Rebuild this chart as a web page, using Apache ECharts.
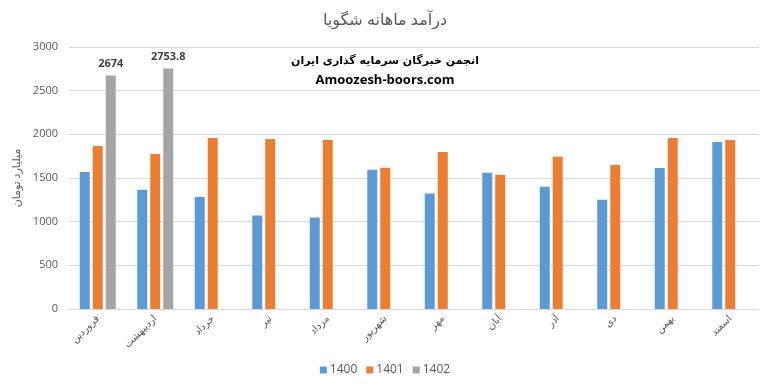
<!DOCTYPE html>
<html><head><meta charset="utf-8">
<script src="https://cdn.jsdelivr.net/npm/echarts@6/dist/echarts.min.js"></script>
<style>html,body{margin:0;padding:0;background:#fff}#c{width:770px;height:391px}</style>
</head><body><div id="c"></div>
<script>
var categories = ['فروردین','اردیبهشت','خرداد','تیر','مرداد','شهریور','مهر','آبان','آذر','دی','بهمن','اسفند'];
var s1400 = [1570, 1365, 1283, 1070, 1047, 1594, 1322, 1560, 1400, 1250, 1614, 1912];
var s1401 = [1866, 1776, 1958, 1947, 1935, 1617, 1799, 1537, 1742, 1650, 1958, 1935];
var s1402 = [2674, 2753.8, null, null, null, null, null, null, null, null, null, null];
var seriesNames = ['1400','1401','1402'];
var yTicks = [0, 500, 1000, 1500, 2000, 2500, 3000];

var FONT = '"Open Sans", "DejaVu Sans", sans-serif';
var chart = echarts.init(document.getElementById('c'));
chart.setOption({
  animation: false,
  textStyle: {fontFamily: FONT},
  title: {
    text: 'درآمد ماهانه شگویا', left: 'center', top: 7,
    textStyle: {fontSize: 16, fontWeight: 'normal', color: '#595959', fontFamily: FONT}
  },
  legend: {
    bottom: 10, left: 'center', itemWidth: 7, itemHeight: 7, itemGap: 9,
    icon: 'rect', data: seriesNames,
    textStyle: {fontSize: 12, color: '#595959', fontFamily: FONT, padding: [0, 0, 0, -2]}
  },
  grid: {left: 69, right: 11, top: 47, bottom: 82},
  xAxis: {
    type: 'category', data: categories,
    axisLine: {lineStyle: {color: '#d9d9d9'}},
    axisTick: {show: false},
    axisLabel: {rotate: 45, fontSize: 10, color: '#595959', margin: 8, fontFamily: FONT}
  },
  yAxis: {
    type: 'value', min: yTicks[0], max: yTicks[yTicks.length-1], interval: 500,
    name: 'میلیارد تومان', nameLocation: 'middle', nameGap: 41, nameRotate: 90,
    nameTextStyle: {fontSize: 11, color: '#595959', fontFamily: FONT},
    axisLine: {show: false}, axisTick: {show: false},
    axisLabel: {fontSize: 11, color: '#595959', margin: 11, fontFamily: FONT, formatter: function(v){ return String(v); }},
    splitLine: {lineStyle: {color: '#d9d9d9'}}
  },
  series: [
    {name: seriesNames[0], type: 'bar', data: s1400, barWidth: 10, barGap: '30%', itemStyle: {color: '#5B9BD5'}},
    {name: seriesNames[1], type: 'bar', data: s1401, barWidth: 10, barGap: '30%', itemStyle: {color: '#ED7D31'}},
    {name: seriesNames[2], type: 'bar', data: s1402, barWidth: 10, barGap: '30%', itemStyle: {color: '#A5A5A5'},
      label: {show: true, position: 'top', distance: 6, fontSize: 11, fontWeight: 'bold', color: '#404040', fontFamily: FONT}}
  ],
  graphic: [
    {type: 'text', left: 'center', top: 56, style: {text: 'انجمن خبرگان سرمایه گذاری ایران', fill: '#000', font: 'bold 11px "DejaVu Sans", sans-serif'}},
    {type: 'text', left: 'center', top: 74, style: {text: 'Amoozesh-boors.com', fill: '#000', font: 'bold 13px "Open Sans", "DejaVu Sans", sans-serif'}}
  ]
});
</script></body></html>
